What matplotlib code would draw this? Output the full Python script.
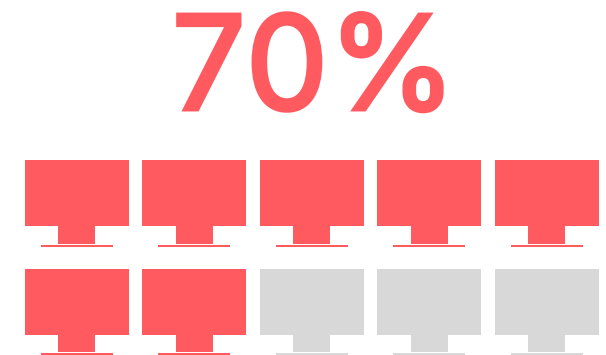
import matplotlib
matplotlib.use('Agg')
import matplotlib.pyplot as plt
import matplotlib.patheffects as pe
from matplotlib.patches import Rectangle

label = '70%'
total_icons = 10
filled_icons = 7

# pixel positions of the monitor parts, one entry per column
screen_left = [25, 142, 260, 377, 495]
stand_left = [58, 176, 293, 411, 528]
base_left = [41, 158, 276, 393, 511]

# screen top, stand height and base top for each row
screen_top = [160, 269]
stand_height = [18, 17]
base_top = [245, 353]

red = '#ff5a60'
grey = '#d8d8d8'

fig = plt.figure(figsize=(6.06, 3.55), dpi=100)
ax = fig.add_axes([0, 0, 1, 1])
ax.set_xlim(0, 606)
ax.set_ylim(355, 0)
ax.axis('off')

count = 0
for r in range(len(screen_top)):
    for c in range(len(screen_left)):
        color = red if count < filled_icons else grey
        ax.add_patch(Rectangle((screen_left[c], screen_top[r]), 104, 66, facecolor=color, edgecolor='none'))
        ax.add_patch(Rectangle((stand_left[c], screen_top[r] + 66), 37, stand_height[r], facecolor=color, edgecolor='none'))
        ax.add_patch(Rectangle((base_left[c], base_top[r]), 72, 2, facecolor=color, edgecolor='none'))
        count += 1

# Inter has no medium cut here, so thicken the regular one with a stroke
txt = ax.text(314, 109.5, label, color=red, fontsize=94, family='Inter', ha='center', va='baseline')
txt.set_path_effects([pe.withStroke(linewidth=2.8, foreground=red, joinstyle='miter')])

fig.savefig('out.png', dpi=100)
